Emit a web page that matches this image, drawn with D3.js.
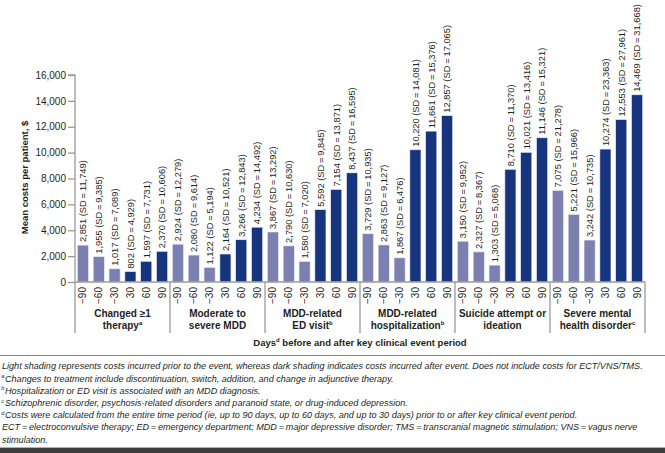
<!DOCTYPE html>
<html><head><meta charset="utf-8">
<script src="https://cdn.jsdelivr.net/npm/d3@7/dist/d3.min.js"></script>
<style>
html,body{margin:0;padding:0;background:#fff;}
svg{display:block;}
text{font-family:"Liberation Sans",Arial,sans-serif;fill:#231f20;}
</style></head>
<body>
<svg id="chart" width="665" height="453"></svg>
<script>
// ---------- data ----------
const categories = [
  ["Changed \u22651", "therapy", "a"],
  ["Moderate to", "severe MDD", ""],
  ["MDD-related", "ED visit", "b"],
  ["MDD-related", "hospitalization", "b"],
  ["Suicide attempt or", "ideation", ""],
  ["Severe mental", "health disorder", "c"]
];
const periods = ["\u221290", "\u221260", "\u221230", "30", "60", "90"];
const afterEvent = [false, false, false, true, true, true];
const meanChanged     = [2851, 1955, 1017, 802, 1597, 2370];
const meanModerate    = [2924, 2080, 1122, 2164, 3266, 4234];
const meanEdVisit     = [3867, 2790, 1580, 5592, 7154, 8437];
const meanHosp        = [3729, 2863, 1867, 10220, 11661, 12857];
const meanSuicide     = [3150, 2327, 1303, 8710, 10021, 11146];
const meanSevere      = [7075, 5221, 3242, 10274, 12553, 14469];
const sdChanged       = [11749, 9385, 7089, 4929, 7731, 10606];
const sdModerate      = [12279, 9614, 5194, 10521, 12843, 14492];
const sdEdVisit       = [13292, 10630, 7020, 9845, 13871, 16595];
const sdHosp          = [10935, 9127, 6476, 14081, 15376, 17065];
const sdSuicide       = [9952, 8367, 5068, 11370, 13416, 15321];
const sdSevere        = [21278, 15966, 10735, 23363, 27961, 31668];
const yTicks = [0, 2000, 4000, 6000, 8000, 10000, 12000, 14000, 16000];
const footnotes = [
  ["", "Light shading represents costs incurred prior to the event, whereas dark shading indicates costs incurred after event. Does not include costs for ECT/VNS/TMS."],
  ["a", "Changes to treatment include discontinuation, switch, addition, and change in adjunctive therapy."],
  ["b", "Hospitalization or ED visit is associated with an MDD diagnosis."],
  ["c", "Schizophrenic disorder, psychosis-related disorders and paranoid state, or drug-induced depression."],
  ["d", "Costs were calculated from the entire time period (ie, up to 90 days, up to 60 days, and up to 30 days) prior to or after key clinical event period."],
  ["", "ECT\u2009=\u2009electroconvulsive therapy; ED\u2009=\u2009emergency department; MDD\u2009=\u2009major depressive disorder; TMS\u2009=\u2009transcranial magnetic stimulation; VNS\u2009=\u2009vagus nerve"],
  ["", "stimulation."]
];
const means = [meanChanged, meanModerate, meanEdVisit, meanHosp, meanSuicide, meanSevere];
const sds = [sdChanged, sdModerate, sdEdVisit, sdHosp, sdSuicide, sdSevere];

// ---------- layout ----------
const svg = d3.select("#chart");
const X0 = 75, X1 = 645, Y0 = 282, YT = 75;
const lightColor = "#7b80b1", darkColor = "#17357e", axisColor = "#9a9a9a";

const y = d3.scaleLinear().domain([0, 16000]).range([Y0, YT]);
const xGroup = d3.scaleBand().domain(d3.range(categories.length)).range([X0, X1]).padding(0);
const xInner = d3.scaleBand().domain(d3.range(periods.length)).range([0, xGroup.bandwidth()])
  .paddingInner(0.3).paddingOuter(0.15);

// y axis
const yAxis = d3.axisLeft(y).tickValues(yTicks).tickSize(7).tickPadding(2).tickFormat(d3.format(","));
const gy = svg.append("g").attr("transform", `translate(${X0},0)`).call(yAxis);
gy.selectAll("path,line").attr("stroke", axisColor).attr("stroke-width", 1.3);
gy.selectAll("text").attr("font-size", "10px").style("font-family", '"Liberation Sans",Arial,sans-serif').attr("fill", "#231f20");
gy.select(".domain").attr("d", `M-7,${YT}H0V${Y0}`);

// y title
svg.append("text")
  .attr("transform", `translate(25,${(YT + Y0) / 2 - 1}) rotate(-90)`)
  .attr("text-anchor", "middle").attr("dy", "0.35em")
  .attr("font-size", "9.5px").attr("font-weight", "bold")
  .text("Mean costs per patient, $");

// groups
const fmt = d3.format(",");
categories.forEach((cat, gi) => {
  const g = svg.append("g").attr("transform", `translate(${xGroup(gi)},0)`);
  const rows = periods.map((p, i) => ({ p, i, v: means[gi][i], sd: sds[gi][i], after: afterEvent[i] }));
  g.selectAll("rect").data(rows).join("rect")
    .attr("x", d => xInner(d.i)).attr("width", xInner.bandwidth())
    .attr("y", d => y(d.v)).attr("height", d => Y0 - y(d.v))
    .attr("fill", d => d.after ? darkColor : lightColor)
    .attr("stroke", "#e8eaf2").attr("stroke-width", 0.6);
  g.selectAll("text.val").data(rows).join("text").attr("class", "val")
    .attr("transform", d => `translate(${xInner(d.i) + xInner.bandwidth() / 2},${y(d.v) - 3}) rotate(-90)`)
    .attr("dy", "0.35em").attr("font-size", "9.3px")
    .text(d => `${fmt(d.v)} (SD\u2009=\u2009${fmt(d.sd)})`);
  g.selectAll("text.per").data(rows).join("text").attr("class", "per")
    .attr("transform", d => `translate(${xInner(d.i) + xInner.bandwidth() / 2},${Y0 + 5}) rotate(-90)`)
    .attr("dy", "0.35em").attr("text-anchor", "end").attr("font-size", "10px")
    .text(d => d.p);
  const cx = xGroup.bandwidth() / 2;
  g.append("text").attr("x", cx).attr("y", 317).attr("text-anchor", "middle")
    .attr("font-size", "10px").attr("font-weight", "bold").text(cat[0]);
  const t2 = g.append("text").attr("x", cx).attr("y", 329).attr("text-anchor", "middle")
    .attr("font-size", "10px").attr("font-weight", "bold");
  t2.append("tspan").text(cat[1]);
  if (cat[2]) t2.append("tspan").attr("dy", -4).attr("font-size", "6px").text(cat[2]);
});

// x axis line and separators
svg.append("line").attr("x1", X0).attr("x2", X1).attr("y1", Y0).attr("y2", Y0)
  .attr("stroke", axisColor).attr("stroke-width", 1.3);
const seps = d3.range(categories.length + 1).map(i => i < categories.length ? xGroup(i) : X1);
svg.selectAll("line.sep").data(seps).join("line").attr("class", "sep")
  .attr("x1", d => d).attr("x2", d => d).attr("y1", Y0).attr("y2", 333)
  .attr("stroke", axisColor).attr("stroke-width", 1.3);

// x title
const xt = svg.append("text").attr("x", 360).attr("y", 346).attr("text-anchor", "middle")
  .attr("font-size", "9.5px").attr("font-weight", "bold");
xt.append("tspan").text("Days");
xt.append("tspan").attr("dy", -4).attr("font-size", "6px").text("d");
xt.append("tspan").attr("dy", 4).text(" before and after key clinical event period");

// footnotes (condensed italic: same horizontal squeeze for every line, via transform)
svg.append("line").attr("x1", 0).attr("x2", 665).attr("y1", 355.5).attr("y2", 355.5)
  .attr("stroke", "#8a8a8a").attr("stroke-width", 1);
const fnGroup = svg.append("g");
const fnTexts = footnotes.map((fn, i) => {
  const yy = 369.5 + i * 12.2;
  if (fn[0]) {
    svg.append("text").attr("x", 1.2).attr("y", yy - 3.5)
      .attr("font-size", "5.5px").attr("font-style", "italic").attr("fill", "#333").text(fn[0]);
  }
  return fnGroup.append("text").attr("y", yy)
    .attr("font-size", "9.8px").attr("font-style", "italic").attr("fill", "#333")
    .text(fn[1]);
});
const squeeze = (643 - 2) / fnTexts[0].node().getComputedTextLength();
fnTexts.forEach((t, i) => {
  const x0 = footnotes[i][0] ? 5 : 2;
  t.attr("x", x0 / squeeze);
});
fnGroup.attr("transform", `scale(${squeeze},1)`);
svg.append("line").attr("x1", 0).attr("x2", 665).attr("y1", 447.5).attr("y2", 447.5).attr("stroke", "#b0b0b0");
svg.append("rect").attr("x", 0).attr("y", 448).attr("width", 665).attr("height", 5).attr("fill", "#3e3e3e");
</script>
</body></html>
